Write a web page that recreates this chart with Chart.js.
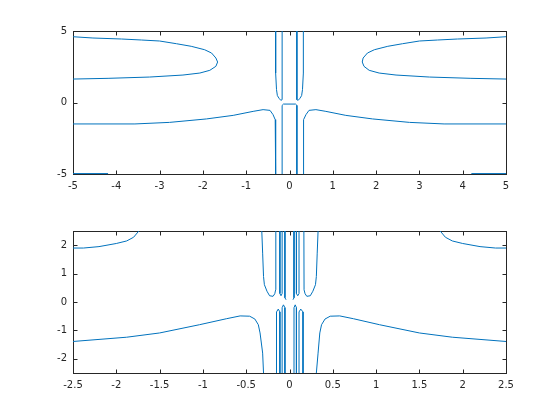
<!DOCTYPE html>
<html lang="en">

<head>
    <meta charset="UTF-8">
    <title>contour subplots</title>
    <script src="https://cdn.jsdelivr.net/npm/chart.js"></script>
    <style>
        body { margin: 0; background: #fff; }
        canvas { display: block; }
    </style>
</head>

<body>
    <canvas id="topChart" width="560" height="210"></canvas>
    <canvas id="botChart" width="560" height="210"></canvas>
    <script>
        // tick values
        const topXTicks = [-5, -4, -3, -2, -1, 0, 1, 2, 3, 4, 5];
        const topYTicks = [-5, 0, 5];
        const botXTicks = [-2.5, -2, -1.5, -1, -0.5, 0, 0.5, 1, 1.5, 2, 2.5];
        const botYTicks = [-2, -1, 0, 1, 2];

        // upper subplot contour pieces, [x, y]
        const topLobeL = [[-5, 4.60], [-4.54, 4.51], [-3.88, 4.44], [-3.42, 4.37], [-3.0, 4.30], [-2.61, 4.11], [-2.27, 3.93], [-1.96, 3.69], [-1.80, 3.46], [-1.70, 3.11], [-1.66, 2.83], [-1.70, 2.53], [-1.84, 2.25], [-2.07, 2.06], [-2.46, 1.92], [-3.23, 1.78], [-4.19, 1.69], [-5, 1.64]];
        const topLobeR = [[5, 4.60], [4.54, 4.51], [3.88, 4.44], [3.42, 4.37], [3.0, 4.30], [2.61, 4.11], [2.27, 3.93], [1.96, 3.69], [1.80, 3.46], [1.70, 3.11], [1.68, 2.83], [1.72, 2.53], [1.84, 2.25], [2.07, 2.06], [2.46, 1.92], [3.23, 1.78], [4.19, 1.69], [5, 1.64]];
        const topLowL = [[-5, -1.50], [-3.57, -1.50], [-2.77, -1.39], [-1.92, -1.15], [-1.30, -0.90], [-0.84, -0.62], [-0.61, -0.50], [-0.45, -0.55], [-0.38, -0.85], [-0.33, -1.2], [-0.32, -2.13], [-0.32, -5]];
        const topLowR = [[0.32, -5], [0.32, -2.13], [0.33, -1.2], [0.38, -0.85], [0.45, -0.55], [0.61, -0.50], [0.84, -0.62], [1.30, -0.90], [1.92, -1.15], [2.77, -1.39], [3.57, -1.50], [5, -1.50]];
        const topCap = [[-0.17, -5], [-0.17, -0.2], [-0.14, -0.11], [0.14, -0.11], [0.17, -0.2], [0.17, -5]];
        const topUL = [[-0.32, 5], [-0.32, 2.06], [-0.30, 0.9], [-0.28, 0.48], [-0.24, 0.29], [-0.20, 0.15], [-0.17, 0.2], [-0.17, 5]];
        const topUR = [[0.17, 5], [0.17, 0.2], [0.20, 0.15], [0.24, 0.29], [0.28, 0.48], [0.30, 0.9], [0.32, 2.06], [0.32, 5]];
        const topEdgeL = [[-5, -4.97], [-4.19, -4.97]];
        const topEdgeR = [[4.2, -4.97], [5, -4.97]];

        // lower subplot contour pieces
        const botTopL = [[-2.5, 1.90], [-2.38, 1.90], [-2.2, 1.95], [-2.0, 2.06], [-1.88, 2.15], [-1.80, 2.28], [-1.74, 2.5]];
        const botTopR = [[1.74, 2.5], [1.80, 2.28], [1.88, 2.15], [2.0, 2.06], [2.2, 1.95], [2.38, 1.90], [2.5, 1.90]];
        const botLowL = [[-2.5, -1.39], [-1.88, -1.24], [-1.5, -1.09], [-1.04, -0.80], [-0.73, -0.59], [-0.57, -0.49], [-0.46, -0.50], [-0.40, -0.60], [-0.36, -0.80], [-0.34, -1.09], [-0.31, -1.80], [-0.30, -2.5]];
        const botLowR = [[0.31, -2.5], [0.33, -1.80], [0.35, -1.09], [0.37, -0.80], [0.41, -0.60], [0.47, -0.50], [0.58, -0.49], [0.74, -0.59], [1.04, -0.80], [1.5, -1.09], [1.88, -1.24], [2.5, -1.39]];
        const botUL = [[-0.32, 2.5], [-0.31, 1.72], [-0.30, 0.90], [-0.29, 0.61], [-0.26, 0.38], [-0.23, 0.22], [-0.19, 0.20], [-0.17, 0.29], [-0.16, 0.43], [-0.158, 2.5]];
        const botUR = [[0.166, 2.5], [0.168, 0.43], [0.18, 0.29], [0.20, 0.20], [0.24, 0.22], [0.27, 0.38], [0.30, 0.61], [0.31, 0.90], [0.32, 1.72], [0.33, 2.5]];
        const botMidUL = [[-0.111, 2.5], [-0.111, 0.3], [-0.098, 0.22], [-0.085, 0.3], [-0.085, 2.5]];
        const botMidUL2 = [[-0.053, 2.5], [-0.053, 0.15], [-0.04, 0.08]];
        const botMidUR2 = [[0.052, 2.5], [0.052, 0.15], [0.04, 0.08]];
        const botMidUR = [[0.080, 2.5], [0.080, 0.3], [0.095, 0.22], [0.110, 0.3], [0.110, 2.5]];
        const botMidLL = [[-0.15, -2.5], [-0.15, -0.35], [-0.13, -0.25], [-0.111, -0.35], [-0.111, -2.5]];
        const botMidLL2 = [[-0.085, -2.5], [-0.085, -0.2], [-0.07, -0.1], [-0.053, -0.2], [-0.053, -2.5]];
        const botMidLR2 = [[0.052, -2.5], [0.052, -0.2], [0.066, -0.1], [0.080, -0.2], [0.080, -2.5]];
        const botMidLR = [[0.110, -2.5], [0.110, -0.35], [0.13, -0.25], [0.156, -0.35], [0.156, -2.5]];

        const lineColor = '#0072BD';
        const axColor = '#262626';

        Chart.defaults.font.family = '"DejaVu Sans", sans-serif';
        Chart.defaults.font.size = 10;
        Chart.defaults.color = axColor;

        // matlab-ish box with ticks pointing inward, drawn under the lines
        const boxPlugin = {
            id: 'box',
            beforeDatasetsDraw(chart) {
                const { ctx, chartArea: a, scales } = chart;
                const L = Math.round(a.left) + 0.5, R = Math.round(a.right) + 0.5;
                const T = Math.round(a.top) + 0.5, B = Math.round(a.bottom) + 0.5;
                ctx.save();
                ctx.strokeStyle = axColor;
                ctx.lineWidth = 1;
                ctx.beginPath();
                scales.x.ticks.forEach(t => {
                    const p = Math.round(scales.x.getPixelForValue(t.value)) + 0.5;
                    ctx.moveTo(p, B); ctx.lineTo(p, B - 4);
                    ctx.moveTo(p, T); ctx.lineTo(p, T + 4);
                });
                scales.y.ticks.forEach(t => {
                    const p = Math.round(scales.y.getPixelForValue(t.value)) + 0.5;
                    ctx.moveTo(L, p); ctx.lineTo(L + 4, p);
                    ctx.moveTo(R, p); ctx.lineTo(R - 4, p);
                });
                ctx.stroke();
                ctx.strokeRect(L, T, R - L, B - T);
                ctx.restore();
            }
        };

        function makeChart(id, curves, xr, yr, xt, yt, padTop, xAxisH) {
            return new Chart(document.getElementById(id), {
                type: 'scatter',
                data: {
                    datasets: curves.map(c => ({
                        data: c.map(p => ({ x: p[0], y: p[1] })),
                        showLine: true,
                        pointRadius: 0,
                        borderColor: lineColor,
                        borderWidth: 1,
                        fill: false,
                        clip: 2
                    }))
                },
                options: {
                    responsive: false,
                    animation: false,
                    layout: { padding: { top: padTop, right: 54, left: 0, bottom: 0 } },
                    plugins: { legend: { display: false }, tooltip: { enabled: false } },
                    scales: {
                        x: {
                            type: 'linear', min: xr[0], max: xr[1],
                            grid: { display: false, drawTicks: false },
                            border: { display: false },
                            afterBuildTicks: s => { s.ticks = xt.map(v => ({ value: v })); },
                            ticks: { padding: 6, maxRotation: 0, autoSkip: false, callback: v => String(+v.toFixed(2)) },
                            afterFit: s => { s.height = xAxisH; }
                        },
                        y: {
                            type: 'linear', min: yr[0], max: yr[1],
                            grid: { display: false, drawTicks: false },
                            border: { display: false },
                            afterBuildTicks: s => { s.ticks = yt.map(v => ({ value: v })); },
                            ticks: { padding: 6, autoSkip: false, callback: v => String(+v.toFixed(2)) },
                            afterFit: s => { s.width = 73; }
                        }
                    }
                },
                plugins: [boxPlugin]
            });
        }

        makeChart('topChart',
            [topLobeL, topLobeR, topLowL, topLowR, topCap, topUL, topUR, topEdgeL, topEdgeR],
            [-5, 5], [-5, 5], topXTicks, topYTicks, 31, 36);
        makeChart('botChart',
            [botTopL, botTopR, botLowL, botLowR, botUL, botUR, botMidUL, botMidUL2, botMidUR2, botMidUR,
                botMidLL, botMidLL2, botMidLR2, botMidLR],
            [-2.5, 2.5], [-2.5, 2.5], botXTicks, botYTicks, 21, 47);
    </script>
</body>

</html>
